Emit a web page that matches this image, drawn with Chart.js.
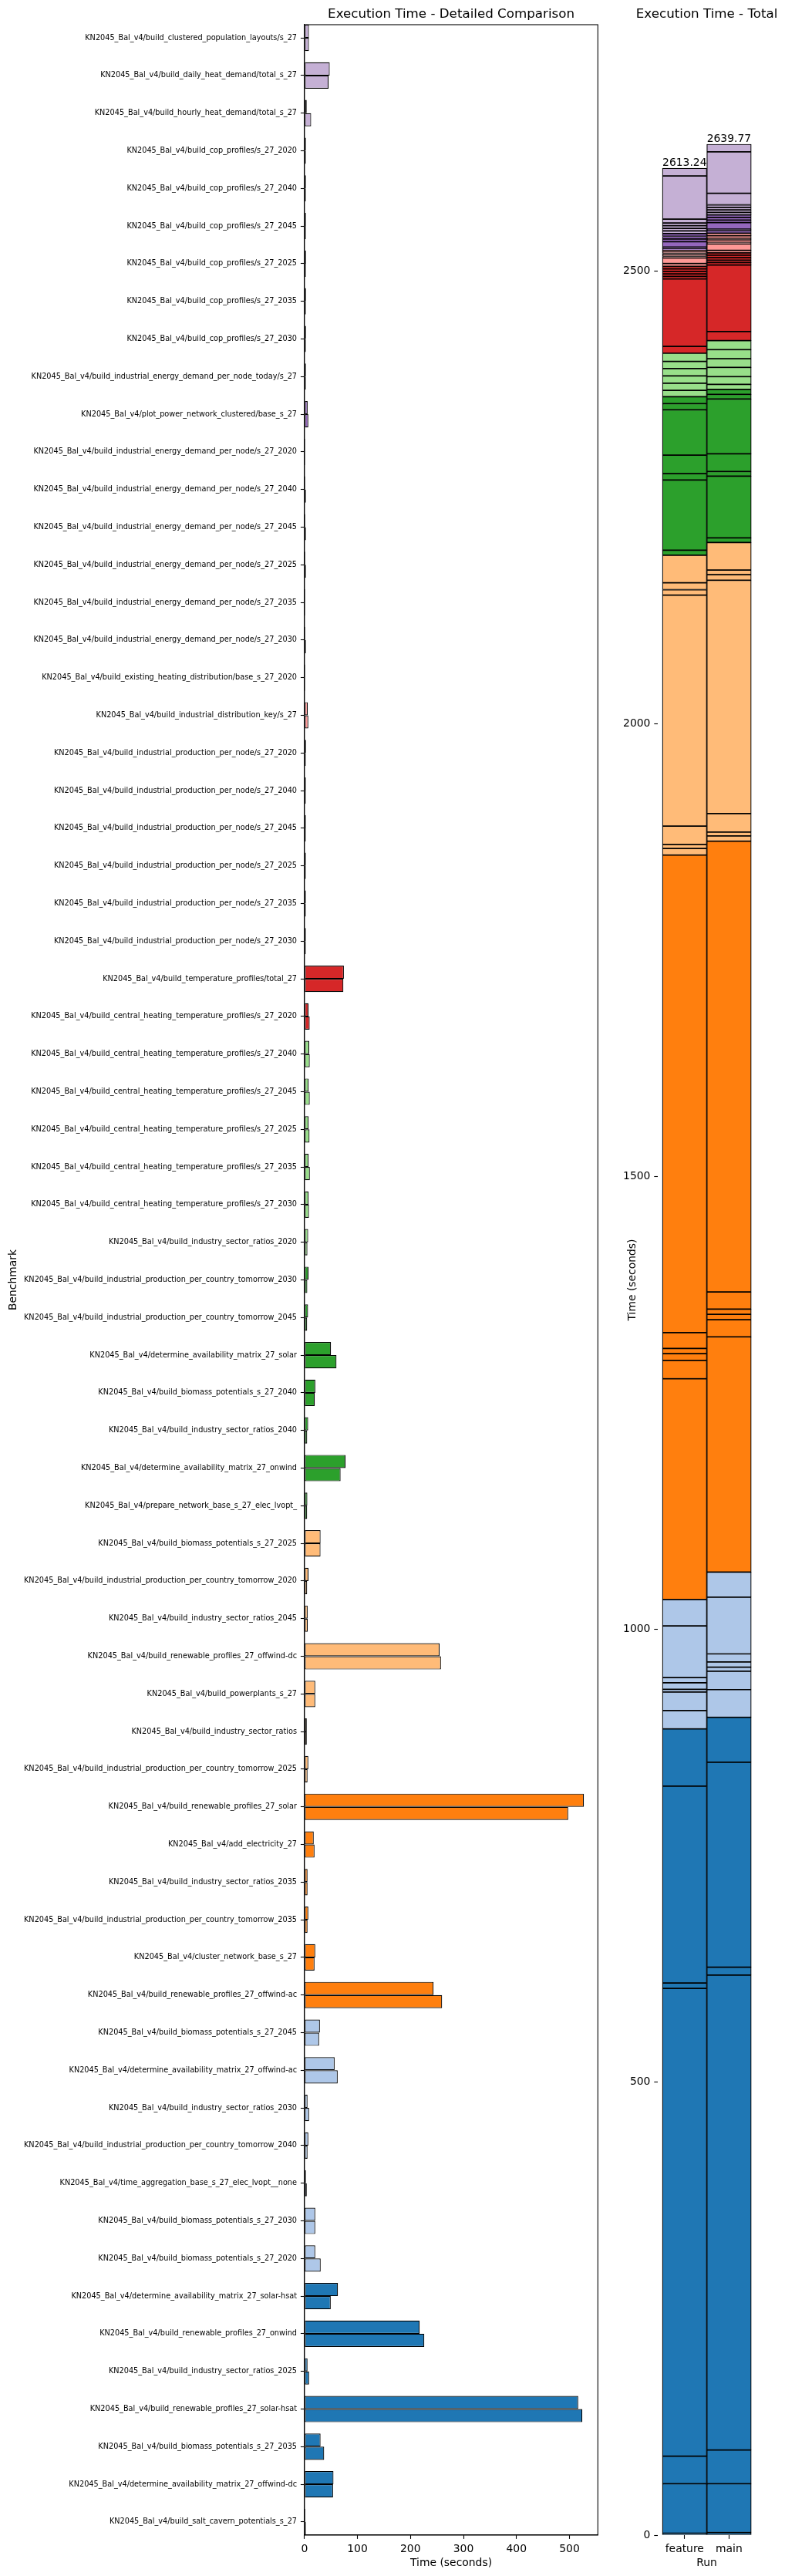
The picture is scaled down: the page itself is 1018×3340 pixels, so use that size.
<!DOCTYPE html>
<html><head><meta charset="utf-8">
<script src="https://cdn.jsdelivr.net/npm/chart.js@4.4.1/dist/chart.umd.min.js"></script>
<style>
html,body{margin:0;padding:0;background:#fff;}
body{width:1018px;height:3340px;position:relative;overflow:hidden;}
#c1{position:absolute;left:0;top:0;}
#c2{position:absolute;left:790px;top:0;}
</style></head><body>
<canvas id="c1" width="790" height="3340"></canvas>
<canvas id="c2" width="228" height="3340"></canvas>
<script>
const benchmarks = [
"KN2045_Bal_v4/build_clustered_population_layouts/s_27",
"KN2045_Bal_v4/build_daily_heat_demand/total_s_27",
"KN2045_Bal_v4/build_hourly_heat_demand/total_s_27",
"KN2045_Bal_v4/build_cop_profiles/s_27_2020",
"KN2045_Bal_v4/build_cop_profiles/s_27_2040",
"KN2045_Bal_v4/build_cop_profiles/s_27_2045",
"KN2045_Bal_v4/build_cop_profiles/s_27_2025",
"KN2045_Bal_v4/build_cop_profiles/s_27_2035",
"KN2045_Bal_v4/build_cop_profiles/s_27_2030",
"KN2045_Bal_v4/build_industrial_energy_demand_per_node_today/s_27",
"KN2045_Bal_v4/plot_power_network_clustered/base_s_27",
"KN2045_Bal_v4/build_industrial_energy_demand_per_node/s_27_2020",
"KN2045_Bal_v4/build_industrial_energy_demand_per_node/s_27_2040",
"KN2045_Bal_v4/build_industrial_energy_demand_per_node/s_27_2045",
"KN2045_Bal_v4/build_industrial_energy_demand_per_node/s_27_2025",
"KN2045_Bal_v4/build_industrial_energy_demand_per_node/s_27_2035",
"KN2045_Bal_v4/build_industrial_energy_demand_per_node/s_27_2030",
"KN2045_Bal_v4/build_existing_heating_distribution/base_s_27_2020",
"KN2045_Bal_v4/build_industrial_distribution_key/s_27",
"KN2045_Bal_v4/build_industrial_production_per_node/s_27_2020",
"KN2045_Bal_v4/build_industrial_production_per_node/s_27_2040",
"KN2045_Bal_v4/build_industrial_production_per_node/s_27_2045",
"KN2045_Bal_v4/build_industrial_production_per_node/s_27_2025",
"KN2045_Bal_v4/build_industrial_production_per_node/s_27_2035",
"KN2045_Bal_v4/build_industrial_production_per_node/s_27_2030",
"KN2045_Bal_v4/build_temperature_profiles/total_27",
"KN2045_Bal_v4/build_central_heating_temperature_profiles/s_27_2020",
"KN2045_Bal_v4/build_central_heating_temperature_profiles/s_27_2040",
"KN2045_Bal_v4/build_central_heating_temperature_profiles/s_27_2045",
"KN2045_Bal_v4/build_central_heating_temperature_profiles/s_27_2025",
"KN2045_Bal_v4/build_central_heating_temperature_profiles/s_27_2035",
"KN2045_Bal_v4/build_central_heating_temperature_profiles/s_27_2030",
"KN2045_Bal_v4/build_industry_sector_ratios_2020",
"KN2045_Bal_v4/build_industrial_production_per_country_tomorrow_2030",
"KN2045_Bal_v4/build_industrial_production_per_country_tomorrow_2045",
"KN2045_Bal_v4/determine_availability_matrix_27_solar",
"KN2045_Bal_v4/build_biomass_potentials_s_27_2040",
"KN2045_Bal_v4/build_industry_sector_ratios_2040",
"KN2045_Bal_v4/determine_availability_matrix_27_onwind",
"KN2045_Bal_v4/prepare_network_base_s_27_elec_lvopt_",
"KN2045_Bal_v4/build_biomass_potentials_s_27_2025",
"KN2045_Bal_v4/build_industrial_production_per_country_tomorrow_2020",
"KN2045_Bal_v4/build_industry_sector_ratios_2045",
"KN2045_Bal_v4/build_renewable_profiles_27_offwind-dc",
"KN2045_Bal_v4/build_powerplants_s_27",
"KN2045_Bal_v4/build_industry_sector_ratios",
"KN2045_Bal_v4/build_industrial_production_per_country_tomorrow_2025",
"KN2045_Bal_v4/build_renewable_profiles_27_solar",
"KN2045_Bal_v4/add_electricity_27",
"KN2045_Bal_v4/build_industry_sector_ratios_2035",
"KN2045_Bal_v4/build_industrial_production_per_country_tomorrow_2035",
"KN2045_Bal_v4/cluster_network_base_s_27",
"KN2045_Bal_v4/build_renewable_profiles_27_offwind-ac",
"KN2045_Bal_v4/build_biomass_potentials_s_27_2045",
"KN2045_Bal_v4/determine_availability_matrix_27_offwind-ac",
"KN2045_Bal_v4/build_industry_sector_ratios_2030",
"KN2045_Bal_v4/build_industrial_production_per_country_tomorrow_2040",
"KN2045_Bal_v4/time_aggregation_base_s_27_elec_lvopt__none",
"KN2045_Bal_v4/build_biomass_potentials_s_27_2030",
"KN2045_Bal_v4/build_biomass_potentials_s_27_2020",
"KN2045_Bal_v4/determine_availability_matrix_27_solar-hsat",
"KN2045_Bal_v4/build_renewable_profiles_27_onwind",
"KN2045_Bal_v4/build_industry_sector_ratios_2025",
"KN2045_Bal_v4/build_renewable_profiles_27_solar-hsat",
"KN2045_Bal_v4/build_biomass_potentials_s_27_2035",
"KN2045_Bal_v4/determine_availability_matrix_27_offwind-dc",
"KN2045_Bal_v4/build_salt_cavern_potentials_s_27"
];

const featureTimes = [
8.5, 47.7, 4.3, 2.9, 2.9, 2.9, 3.0, 3.0, 3.0, 2.9,
6.0, 1.6, 1.7, 1.8, 1.8, 1.6, 1.8, 1.6, 6.24, 3.0,
2.8, 2.8, 2.8, 2.8, 2.8, 74.4, 7.6, 9.0, 8.0, 8.0,
8.0, 8.0, 7.0, 7.6, 6.8, 50.1, 20.5, 7.0, 77.5, 5.5,
30.4, 7.6, 6.0, 255.0, 20.4, 4.4, 7.3, 527.2, 17.5, 5.8,
7.3, 20.4, 243.7, 29.2, 56.9, 5.8, 7.3, 2.9, 20.4, 20.4,
63.2, 217.4, 5.8, 516.5, 30.4, 54.8, 2.0
];

const mainTimes = [
8.5, 45.7, 12.67, 2.8, 2.8, 2.8, 2.8, 2.8, 2.8, 2.8,
7.3, 1.5, 2.9, 2.9, 2.9, 1.5, 2.9, 1.5, 7.3, 2.7,
2.7, 2.7, 2.7, 2.7, 2.7, 73.5, 9.9, 10.0, 10.0, 9.6,
10.2, 8.6, 5.6, 5.4, 5.1, 60.5, 19.5, 5.2, 68.2, 5.1,
30.3, 5.1, 6.2, 257.6, 20.4, 4.4, 5.8, 497.6, 19.0, 5.8,
5.8, 19.0, 259.7, 27.7, 62.7, 8.8, 5.8, 4.4, 20.4, 30.6,
49.6, 226.2, 8.8, 524.3, 37.2, 54.0, 2.8
];

const runs = ["feature", "main"];
const detailTicks = [0, 100, 200, 300, 400, 500];
const totalTicks = [0, 500, 1000, 1500, 2000, 2500];

// ---- styling helpers ----
const FAM = "'DejaVu Sans', sans-serif";
Chart.defaults.font.family = FAM;
Chart.defaults.color = '#000';
const palette = ['#1f77b4','#aec7e8','#ff7f0e','#ffbb78','#2ca02c','#98df8a','#d62728','#ff9896','#9467bd','#c5b0d5'];
const groupSizes = [7,7,6,7,7,6,7,7,6,7];
const rowIdx = benchmarks.map((_, i) => i);
function colorForRow(i) {
  let b = benchmarks.length - 1 - i, g = 0;
  while (g < groupSizes.length - 1 && b >= groupSizes[g]) { b -= groupSizes[g]; g++; }
  return palette[g];
}
const rowColors = rowIdx.map(colorForRow);
const sum = a => a.reduce((s, v) => s + v, 0);
const runTotals = [sum(featureTimes), sum(mainTimes)];
const detailMax = Math.max(...featureTimes, ...mainTimes) * 1.05;
const totalMax = Math.max(...runTotals) * 1.05;

const frame = {
  id: 'frame',
  afterDatasetsDraw(chart) {
    const {ctx, chartArea: a} = chart;
    ctx.save(); ctx.strokeStyle = '#000'; ctx.lineWidth = 1.1;
    ctx.strokeRect(a.left, a.top, a.right - a.left, a.bottom - a.top);
    ctx.restore();
  }
};
const axTitle = {
  id: 'axTitle',
  afterDraw(chart, args, opts) {
    const {ctx, chartArea: a} = chart;
    ctx.save();
    ctx.font = '16.7px ' + FAM; ctx.fillStyle = '#000';
    ctx.textAlign = 'center'; ctx.textBaseline = 'middle';
    ctx.fillText(opts.text, (a.left + a.right) / 2, 19);
    ctx.restore();
  }
};

const barStyle = {borderColor: '#000', borderWidth: 1.2, borderSkipped: false};
const tickGrid = {drawOnChartArea: false, drawTicks: true, tickLength: 4.9, tickColor: '#000', tickWidth: 1.1, offset: false};

new Chart(document.getElementById('c1'), {
  type: 'bar',
  data: {
    datasets: [
      Object.assign({label: runs[0], data: featureTimes.map((v, i) => ({x: v, y: i})), backgroundColor: rowColors}, barStyle),
      Object.assign({label: runs[1], data: mainTimes.map((v, i) => ({x: v, y: i})), backgroundColor: rowColors}, barStyle)
    ]
  },
  options: {
    indexAxis: 'y', responsive: false, animation: false, devicePixelRatio: 1,
    datasets: {bar: {categoryPercentage: 0.7, barPercentage: 1.0}},
    layout: {padding: {left: 0, right: 14.7, top: 32, bottom: 0}},
    plugins: {
      legend: {display: false}, tooltip: {enabled: false}, title: {display: false},
      axTitle: {text: 'Execution Time - Detailed Comparison'}
    },
    scales: {
      y: {
        type: 'linear', reverse: true, offset: false, min: -0.35, max: benchmarks.length - 1 + 0.35,
        afterBuildTicks: s => { s.ticks = rowIdx.map(v => ({value: v})); },
        afterFit: s => { s.width = 394.8; },
        ticks: {autoSkip: false, callback: v => benchmarks[v], font: {size: 9.72}, padding: 4.9, color: '#000'},
        grid: tickGrid,
        border: {display: true, color: '#000', width: 1.1},
        title: {display: true, text: 'Benchmark', font: {size: 13.9}, color: '#000', padding: {top: 8.7, bottom: 0}}
      },
      x: {
        type: 'linear', offset: false, min: 0, max: detailMax,
        afterBuildTicks: s => { s.ticks = detailTicks.map(v => ({value: v})); },
        afterFit: s => { s.height = 53; },
        ticks: {font: {size: 13.9}, padding: 4.9, color: '#000', maxRotation: 0, callback: v => String(v)},
        grid: tickGrid,
        border: {display: true, color: '#000', width: 1.1},
        title: {display: true, text: 'Time (seconds)', font: {size: 13.9}, color: '#000', padding: {top: 0, bottom: 8.7}}
      }
    }
  },
  plugins: [frame, axTitle]
});

const totalsLabel = {
  id: 'totals',
  afterDatasetsDraw(chart) {
    const {ctx, scales: {x, y}} = chart;
    ctx.save();
    ctx.font = '13.9px ' + FAM; ctx.fillStyle = '#000';
    ctx.textAlign = 'center'; ctx.textBaseline = 'alphabetic';
    runTotals.forEach((t, j) => ctx.fillText(t.toFixed(2), x.getPixelForValue(j), y.getPixelForValue(t) - 3));
    ctx.restore();
  }
};

const stackSets = rowIdx.slice().reverse().map(i => Object.assign({
  label: benchmarks[i],
  data: [{x: 0, y: featureTimes[i]}, {x: 1, y: mainTimes[i]}],
  backgroundColor: rowColors[i]
}, barStyle));

new Chart(document.getElementById('c2'), {
  type: 'bar',
  data: {datasets: stackSets},
  options: {
    responsive: false, animation: false, devicePixelRatio: 1,
    datasets: {bar: {categoryPercentage: 1.0, barPercentage: 1.0}},
    layout: {padding: {left: 0, right: 38, top: 32, bottom: 0}},
    plugins: {
      legend: {display: false}, tooltip: {enabled: false}, title: {display: false},
      axTitle: {text: 'Execution Time - Total'}
    },
    scales: {
      x: {
        type: 'linear', stacked: true, offset: false, min: -0.6, max: 1.6,
        afterBuildTicks: s => { s.ticks = runs.map((_, j) => ({value: j})); },
        afterFit: s => { s.height = 53; },
        ticks: {callback: v => runs[v], font: {size: 13.9}, padding: 4.9, color: '#000', maxRotation: 0},
        grid: tickGrid,
        border: {display: false},
        title: {display: true, text: 'Run', font: {size: 13.9}, color: '#000', padding: {top: 0, bottom: 8.7}}
      },
      y: {
        type: 'linear', stacked: true, min: 0, max: totalMax,
        afterBuildTicks: s => { s.ticks = totalTicks.map(v => ({value: v})); },
        afterFit: s => { s.width = 63.2; },
        ticks: {font: {size: 13.9}, padding: 4.9, color: '#000', callback: v => String(v)},
        grid: tickGrid,
        border: {display: false},
        title: {display: true, text: 'Time (seconds)', font: {size: 13.9}, color: '#000', padding: {top: 21.7, bottom: 0}}
      }
    }
  },
  plugins: [totalsLabel, axTitle]
});
</script>
</body></html>
